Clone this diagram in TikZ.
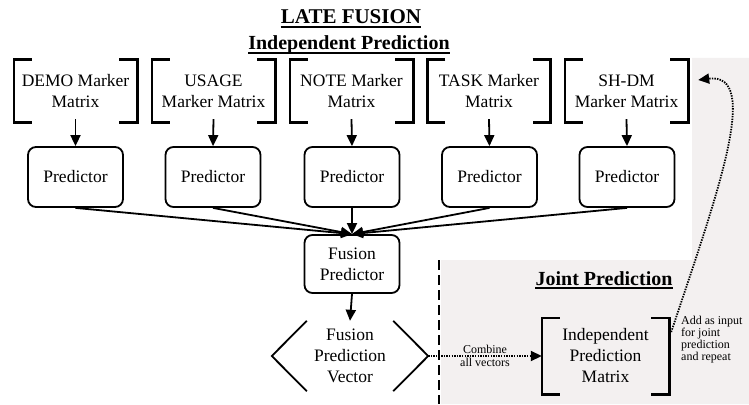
\documentclass[tikz,border=0pt]{standalone}
\usepackage{fontspec}
\setmainfont{Liberation Serif}
\usetikzlibrary{arrows.meta}
\definecolor{greybg}{RGB}{243,240,240}
\newcommand\bigtxt{\fontsize{17.5}{21}\selectfont}
\newcommand\smalltxt{\fontsize{12}{12}\selectfont}
\newcommand\titletxt{\fontsize{20}{24}\selectfont\bfseries}
\newcommand\drawbrk[2]{%
  \draw[brkline] ([xshift=#2]#1.north west) -- (#1.north west) -- (#1.south west) -- ([xshift=#2]#1.south west);
  \draw[brkline] ([xshift=-#2]#1.north east) -- (#1.north east) -- (#1.south east) -- ([xshift=-#2]#1.south east);}
\begin{document}
\begin{tikzpicture}[x=1pt,y=-1pt,
  brkline/.style={line width=2.6pt},
  mtext/.style={align=center,font=\bigtxt,inner sep=0pt,minimum width=123pt,minimum height=62pt},
  pbox/.style={draw,line width=1.8pt,rounded corners=8pt,align=center,font=\bigtxt,minimum width=95pt,minimum height=60pt,inner sep=0pt},
  arr/.style={line width=1.8pt,-{Triangle[length=11pt,width=10pt]}},
  darr/.style={line width=1.8pt,dash pattern=on 1.4pt off 1.2pt,-{Triangle[length=11pt,width=10pt]}},
  ttl/.style={font=\titletxt,inner sep=0pt,anchor=base},
  ul/.style={line width=1.6pt}]
\useasboundingbox (0,0) rectangle (749,404);
% grey background of the joint-prediction area
\fill[greybg] (692,58) -- (749,58) -- (749,404) -- (441,404) -- (441,260) -- (692,260) -- cycle;
% titles
\node[ttl,font=\fontsize{21}{24}\selectfont\bfseries] (t1) at (351,24) {LATE FUSION};
\draw[ul] ([yshift=-3pt]t1.base west) -- ([yshift=-3pt]t1.base east);
\node[ttl] (t2) at (349,50) {Independent Prediction};
\draw[ul] ([yshift=-3pt]t2.base west) -- ([yshift=-3pt]t2.base east);
\node[ttl] (t3) at (604,285) {Joint Prediction};
\draw[ul] ([yshift=-3pt]t3.base west) -- ([yshift=-3pt]t3.base east);
% marker matrices
\node[mtext] (m1) at (75.5,91) {DEMO Marker\\Matrix};
\node[mtext] (m2) at (213.5,91) {USAGE\\Marker Matrix};
\node[mtext] (m3) at (351.5,91) {NOTE Marker\\Matrix};
\node[mtext] (m4) at (489,91) {TASK Marker\\Matrix};
\node[mtext] (m5) at (626.5,91) {SH-DM\\Marker Matrix};
\foreach \i in {1,...,5} {\drawbrk{m\i}{18pt}}
% predictors
\node[pbox] (p1) at (75.5,177) {Predictor};
\node[pbox] (p2) at (213,177) {Predictor};
\node[pbox] (p3) at (352,177) {Predictor};
\node[pbox] (p4) at (489.5,177) {Predictor};
\node[pbox] (p5) at (627,177) {Predictor};
\foreach \i in {1,...,5} {\draw[arr] ([yshift=3pt]m\i.south) -- (p\i.north);}
% fusion predictor
\node[pbox,minimum height=58pt] (fp) at (352,264) {Fusion\\Predictor};
\foreach \i in {1,...,5} {\draw[arr] (p\i.south) -- (fp.north);}
% fusion prediction vector
\node[align=center,font=\bigtxt,inner sep=0pt,minimum width=156pt,minimum height=70pt] (fv) at (350,356) {Fusion\\Prediction\\Vector};
\draw[line width=1.8pt] ([xshift=35pt]fv.north west) -- (fv.west) -- ([xshift=35pt]fv.south west);
\draw[line width=1.8pt] ([xshift=-35pt]fv.north east) -- (fv.east) -- ([xshift=-35pt]fv.south east);
\draw[arr] (fp.south) -- (fv.north);
% dashed separator
\coordinate (dtop) at (439,260);
\coordinate (dbot) at (439,404);
\draw[line width=2pt,dash pattern=on 10pt off 5pt] (dtop) -- (dbot);
% independent prediction matrix
\node[mtext,minimum width=127pt,minimum height=76pt] (ipm) at (605.5,356) {Independent\\Prediction\\Matrix};
\drawbrk{ipm}{18pt}
% combine arrow
\draw[darr] (fv.east) -- node[above=0pt,font=\smalltxt,inner sep=1pt] {Combine} node[below=0pt,font=\smalltxt,inner sep=1pt] {all vectors} (ipm.west);
% feedback arrow
\draw[darr] ([xshift=2pt,yshift=24pt]ipm.east) .. controls (717,195) and (762,72) .. ([xshift=10pt,yshift=11pt]m5.east);
\node[anchor=north west,align=left,font=\smalltxt,inner sep=0pt] (lbl) at (681,316) {Add as input\\for joint\\prediction\\and repeat};
\end{tikzpicture}
\end{document}
